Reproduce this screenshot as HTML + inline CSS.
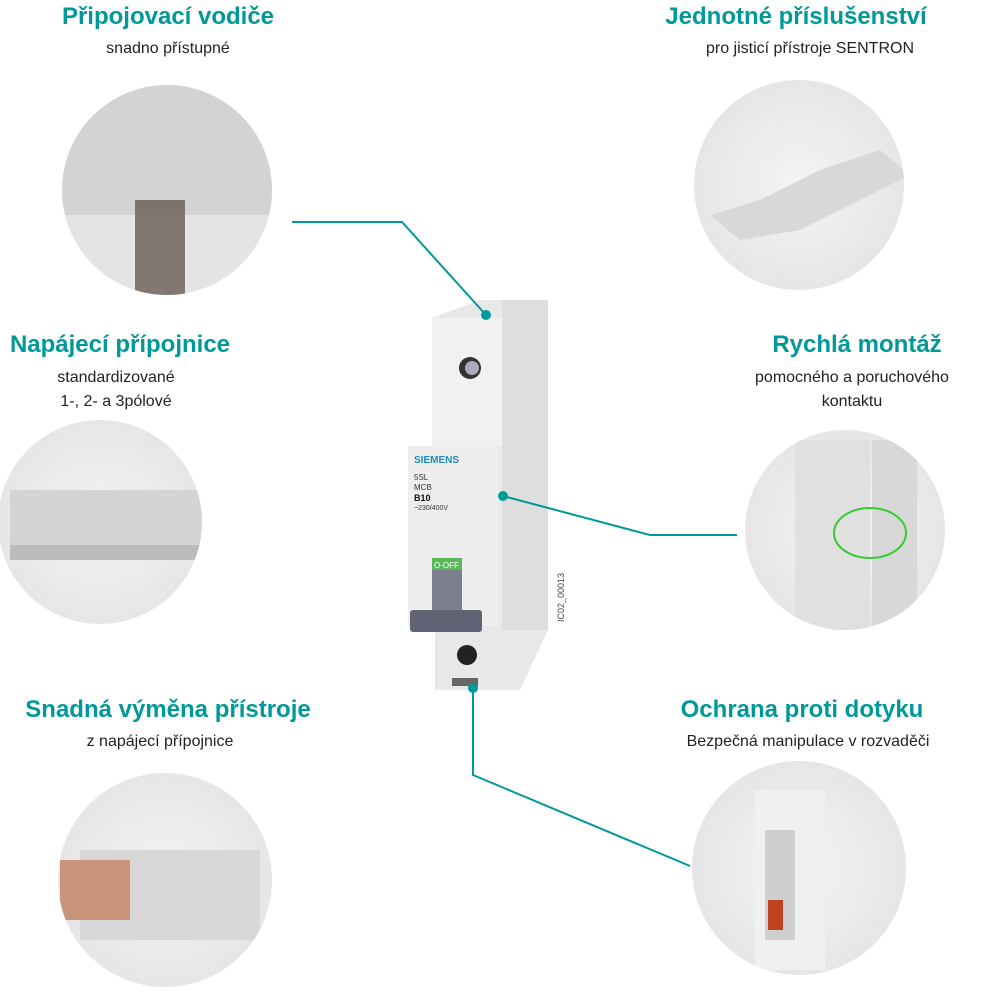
<!DOCTYPE html>
<html><head><meta charset="utf-8"><style>
body{margin:0;width:981px;height:1000px;background:#fff;overflow:hidden;font-family:"Liberation Sans","DejaVu Sans",sans-serif}
svg{position:absolute;left:0;top:0}
</style></head><body>
<svg width="981" height="1000" viewBox="0 0 981 1000" xmlns="http://www.w3.org/2000/svg">
<defs>
<radialGradient id="g" cx="50%" cy="50%" r="50%"><stop offset="0" stop-color="#f4f4f4"/><stop offset="1" stop-color="#e6e6e8"/></radialGradient>
<clipPath id="c1"><circle cx="167" cy="190" r="105"/></clipPath>
<clipPath id="c2"><circle cx="799" cy="185" r="105"/></clipPath>
<clipPath id="c3"><circle cx="100" cy="522" r="102"/></clipPath>
<clipPath id="c4"><circle cx="845" cy="530" r="100"/></clipPath>
<clipPath id="c5"><circle cx="165" cy="880" r="107"/></clipPath>
<clipPath id="c6"><circle cx="799" cy="868" r="107"/></clipPath>
</defs>
<g fill="url(#g)">
<circle cx="167" cy="190" r="105"/>
<circle cx="799" cy="185" r="105"/>
<circle cx="100" cy="522" r="102"/>
<circle cx="845" cy="530" r="100"/>
<circle cx="165" cy="880" r="107"/>
<circle cx="799" cy="868" r="107"/>
</g>
<g clip-path="url(#c1)">
<rect x="55" y="80" width="230" height="140" fill="#d2d3d3"/>
<rect x="55" y="215" width="230" height="90" fill="#e4e4e4"/>
<rect x="135" y="200" width="50" height="100" fill="#5a4a40" opacity=".7"/>
</g>
<g clip-path="url(#c2)">
<path d="M710 215 L760 200 L820 170 L880 150 L910 175 L860 200 L800 230 L740 240Z" fill="#d8d8d8"/>
</g>
<g clip-path="url(#c3)">
<rect x="10" y="490" width="200" height="55" fill="#d4d4d4"/>
<rect x="10" y="545" width="190" height="15" fill="#bbb"/>
</g>
<g clip-path="url(#c4)">
<rect x="795" y="440" width="75" height="190" fill="#e0e0e0"/>
<rect x="872" y="440" width="45" height="190" fill="#d8d8d8"/>
</g>
<ellipse cx="870" cy="533" rx="36" ry="25" fill="none" stroke="#33cc33" stroke-width="2"/>
<g clip-path="url(#c5)">
<rect x="80" y="850" width="180" height="90" fill="#d8d8d8"/>
<rect x="60" y="860" width="70" height="60" fill="#c8957a"/>
</g>
<g clip-path="url(#c6)">
<rect x="755" y="790" width="70" height="180" fill="#f0f0f0"/>
<rect x="765" y="830" width="30" height="110" fill="#cfcfcf"/>
<rect x="768" y="900" width="15" height="30" fill="#c04020"/>
</g>
<!-- breaker -->
<g>
<path d="M432 318 L480 300 L548 300 L548 630 L520 690 L435 690 L435 318Z" fill="#e8e8e8"/>
<rect x="432" y="318" width="70" height="128" fill="#f1f1f1"/>
<rect x="408" y="446" width="90" height="180" fill="#eeeeee"/>
<rect x="502" y="300" width="46" height="330" fill="#dedede"/>
<circle cx="470" cy="368" r="11" fill="#333"/><circle cx="472" cy="368" r="7" fill="#aab"/>
<text x="414" y="463" font-size="10" fill="#1a8fbf" font-weight="bold">SIEMENS</text>
<text x="414" y="480" font-size="8" fill="#333">5SL</text>
<text x="414" y="490" font-size="8" fill="#333">MCB</text>
<text x="414" y="501" font-size="9" fill="#111" font-weight="bold">B10</text>
<text x="414" y="510" font-size="7" fill="#333">~230/400V</text>
<rect x="432" y="558" width="30" height="12" fill="#5ab85a"/>
<text x="434" y="568" font-size="8" fill="#fff">O-OFF</text>
<rect x="432" y="570" width="30" height="50" fill="#7b7f8e"/>
<rect x="410" y="610" width="72" height="22" rx="3" fill="#5e6273"/>
<circle cx="467" cy="655" r="10" fill="#222"/>
<rect x="452" y="678" width="26" height="8" fill="#666"/>
<text transform="translate(564,622) rotate(-90)" font-size="9" fill="#444">IC02_00013</text>
</g>
<g stroke="#00999a" stroke-width="2" fill="none">
<polyline points="292,222 402,222 486,315"/>
<polyline points="503,496 650,535 737,535"/>
<polyline points="473,688 473,775 690,866"/>
</g>
<g fill="#00999a"><circle cx="486" cy="315" r="5"/><circle cx="503" cy="496" r="5"/><circle cx="473" cy="688" r="5"/></g>
<g font-family="Liberation Sans, DejaVu Sans, sans-serif" text-anchor="middle">
<g fill="#00999a" font-size="24" font-weight="bold">
<text x="168" y="24">Připojovací vodiče</text>
<text x="796" y="24">Jednotné příslušenství</text>
<text x="120" y="352">Napájecí přípojnice</text>
<text x="857" y="352">Rychlá montáž</text>
<text x="168" y="717">Snadná výměna přístroje</text>
<text x="802" y="717">Ochrana proti dotyku</text>
</g>
<g fill="#222" font-size="16">
<text x="168" y="53">snadno přístupné</text>
<text x="810" y="53">pro jisticí přístroje SENTRON</text>
<text x="116" y="382">standardizované</text>
<text x="116" y="406">1-, 2- a 3pólové</text>
<text x="852" y="382">pomocného a poruchového</text>
<text x="852" y="406">kontaktu</text>
<text x="160" y="746">z napájecí přípojnice</text>
<text x="808" y="746">Bezpečná manipulace v rozvaděči</text>
</g>
</g>
</svg>
</body></html>
